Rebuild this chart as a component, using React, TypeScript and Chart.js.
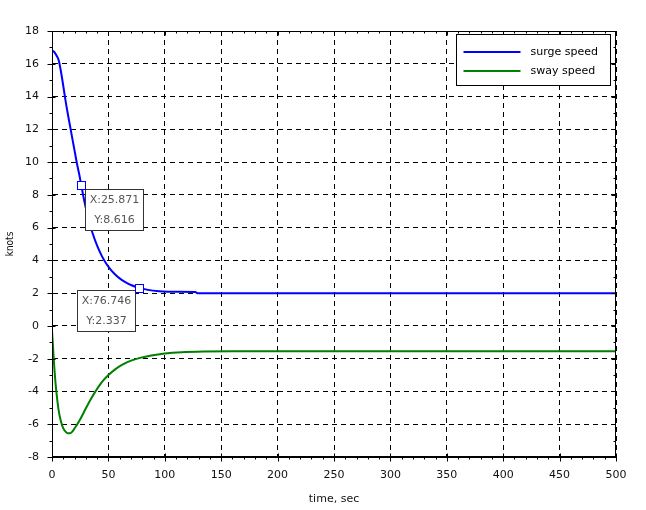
import React, { useEffect, useRef } from "react";
import { Chart, registerables } from "chart.js";

Chart.register(...registerables);

// ---- data ----
const surgeTime = [0, 2, 4, 6, 8, 10, 12, 14, 16, 18, 20, 22, 24, 25.871, 28, 30, 33, 36, 40, 44, 48, 52, 56, 60, 65, 70, 76.746, 85, 95, 110, 127, 129, 200, 300, 400, 500];
const surgeSpeed = [16.8, 16.72, 16.5, 16.2, 15.5, 14.65, 13.75, 12.95, 12.2, 11.45, 10.7, 9.95, 9.3, 8.616, 7.84, 7.2, 6.36, 5.66, 4.9, 4.29, 3.81, 3.44, 3.14, 2.9, 2.67, 2.5, 2.337, 2.2, 2.12, 2.08, 2.07, 2.0, 2.0, 2.0, 2.0, 2.0];
const swayTime = [0, 1, 2, 3, 4, 5, 6, 8, 10, 12, 14, 16, 18, 20, 22, 25, 28, 31, 35, 39, 44, 50, 56, 62, 70, 78, 88, 100, 115, 135, 160, 200, 300, 400, 500];
const swaySpeed = [-0.3, -1.4, -2.5, -3.4, -4.1, -4.7, -5.2, -5.85, -6.25, -6.45, -6.55, -6.55, -6.45, -6.25, -6.05, -5.7, -5.3, -4.9, -4.4, -3.95, -3.45, -3.0, -2.65, -2.38, -2.12, -1.95, -1.8, -1.68, -1.6, -1.56, -1.55, -1.55, -1.55, -1.55, -1.55];
const seriesNames = ["surge speed", "sway speed"];
const seriesColors = ["#0000ff", "#008000"];
const tipX = [25.871, 76.746];
const tipY = [8.616, 2.337];
const xTitle = "time, sec";
const yTitle = "knots";
const xMin = 0, xMax = 500, xStep = 50, xMinorStep = 10;
const yMin = -8, yMax = 18, yStep = 2, yMinorStep = 1;

const FONT = "'DejaVu Sans', sans-serif";

// datatip box placement relative to marker (layout only)
const tipLayout = [
  { dx: 4, dy: 4.5, anchor: "left" },
  { dx: -4, dy: 2, anchor: "right" },
];

const decorPlugin = {
  id: "decor",
  afterDraw(chart: any) {
    const { ctx, chartArea: a, scales } = chart;
    const xs = scales.x, ys = scales.y;
    ctx.save();
    ctx.setLineDash([]);
    ctx.strokeStyle = "#000";
    ctx.lineWidth = 1;
    // frame
    const L = Math.round(a.left) + 0.5, R = Math.round(a.right) - 0.5;
    const T = Math.round(a.top) + 0.5, B = Math.round(a.bottom) - 0.5;
    ctx.strokeRect(L, T, R - L, B - T);
    // ticks
    ctx.beginPath();
    for (let v = xMin; v <= xMax + 1e-9; v += xMinorStep) {
      const major = Math.abs(v / xStep - Math.round(v / xStep)) < 1e-6;
      const px = Math.round(xs.getPixelForValue(v)) + 0.5;
      ctx.moveTo(px, B - (major ? 3 : 0));
      ctx.lineTo(px, B + (major ? 5 : 3));
      ctx.moveTo(px, T);
      ctx.lineTo(px, T + (major ? 4 : 2));
    }
    for (let v = yMin; v <= yMax + 1e-9; v += yMinorStep) {
      const major = Math.abs(v / yStep - Math.round(v / yStep)) < 1e-6;
      const py = Math.round(ys.getPixelForValue(v)) + 0.5;
      ctx.moveTo(L - (major ? 5 : 3), py);
      ctx.lineTo(L + (major ? 3 : 0), py);
      ctx.moveTo(R, py);
      ctx.lineTo(R - (major ? 4 : 2), py);
    }
    ctx.stroke();

    // legend
    const lw = 154, lh = 51;
    const lx = Math.round(a.right - 6 - lw) + 0.5;
    const ly = Math.round(a.top + 3) + 0.5;
    ctx.fillStyle = "#fff";
    ctx.fillRect(lx, ly, lw, lh);
    ctx.strokeStyle = "#000";
    ctx.lineWidth = 1;
    ctx.strokeRect(lx, ly, lw, lh);
    ctx.font = `11px ${FONT}`;
    ctx.textBaseline = "middle";
    ctx.textAlign = "left";
    seriesNames.forEach((name, i) => {
      const yy = ly + 17.5 + i * 19;
      ctx.strokeStyle = seriesColors[i];
      ctx.lineWidth = 2;
      ctx.beginPath();
      ctx.moveTo(lx + 7, yy);
      ctx.lineTo(lx + 64, yy);
      ctx.stroke();
      ctx.fillStyle = "#000";
      ctx.fillText(name, lx + 74, yy);
    });

    // datatips
    tipX.forEach((tx, i) => {
      const mx = xs.getPixelForValue(tx);
      const my = ys.getPixelForValue(tipY[i]);
      const t1 = `X:${tx.toFixed(3)}`;
      const t2 = `Y:${tipY[i].toFixed(3)}`;
      ctx.font = `11px ${FONT}`;
      const tw = Math.max(ctx.measureText(t1).width, ctx.measureText(t2).width);
      const bw = Math.round(tw + 8), bh = 41;
      const lay = tipLayout[i];
      const bx = Math.round(lay.anchor === "left" ? mx + lay.dx : mx + lay.dx - bw) + 0.5;
      const by = Math.round(my + lay.dy) + 0.5;
      ctx.fillStyle = "#fff";
      ctx.fillRect(bx, by, bw, bh);
      ctx.strokeStyle = "#333";
      ctx.lineWidth = 1;
      ctx.strokeRect(bx, by, bw, bh);
      ctx.fillStyle = "#555";
      ctx.textAlign = "center";
      ctx.textBaseline = "middle";
      ctx.fillText(t1, bx + bw / 2, by + 11);
      ctx.fillText(t2, bx + bw / 2, by + 31);
      // marker
      ctx.fillStyle = "#fff";
      ctx.strokeStyle = seriesColors[0];
      ctx.lineWidth = 1;
      const ms = 8;
      const sx = Math.round(mx - ms / 2) + 0.5, sy = Math.round(my - ms / 2) + 0.5;
      ctx.fillRect(sx, sy, ms, ms);
      ctx.strokeRect(sx, sy, ms, ms);
    });
    ctx.restore();
  },
};

export default function App() {
  const ref = useRef<HTMLCanvasElement | null>(null);
  useEffect(() => {
    if (!ref.current) return;
    Chart.defaults.font.family = FONT;
    Chart.defaults.font.size = 11;
    Chart.defaults.color = "#111";
    const chart = new Chart(ref.current, {
      type: "line",
      data: {
        datasets: [
          {
            label: seriesNames[0],
            data: surgeTime.map((t, i) => ({ x: t, y: surgeSpeed[i] })),
            borderColor: seriesColors[0],
            borderWidth: 2,
            pointRadius: 0,
            cubicInterpolationMode: "monotone",
          },
          {
            label: seriesNames[1],
            data: swayTime.map((t, i) => ({ x: t, y: swaySpeed[i] })),
            borderColor: seriesColors[1],
            borderWidth: 2,
            pointRadius: 0,
            cubicInterpolationMode: "monotone",
          },
        ],
      },
      options: {
        animation: false,
        responsive: false,
        events: [],
        layout: { padding: { top: 31, right: 30, left: 0, bottom: 0 } },
        plugins: { legend: { display: false }, tooltip: { enabled: false } },
        scales: {
          x: {
            type: "linear",
            min: xMin,
            max: xMax,
            afterFit: (s: any) => { s.height = 53; },
            ticks: { stepSize: xStep, padding: 12, maxRotation: 0, autoSkip: false, color: "#111", font: { size: 11 } },
            grid: { color: "#000", lineWidth: 1, drawTicks: false },
            border: { display: true, color: "#000", width: 1, dash: [5, 4] },
            title: { display: true, text: xTitle, color: "#111", font: { size: 11 }, padding: { top: 4, bottom: 4 } },
          },
          y: {
            type: "linear",
            min: yMin,
            max: yMax,
            afterFit: (s: any) => { s.width = 52; },
            ticks: { stepSize: yStep, padding: 13, autoSkip: false, color: "#111", font: { size: 11 } },
            grid: { color: "#000", lineWidth: 1, drawTicks: false },
            border: { display: true, color: "#000", width: 1, dash: [5, 4] },
            title: { display: true, text: yTitle, color: "#111", font: { size: 10, family: "'Liberation Sans Narrow', 'DejaVu Sans Condensed', sans-serif" }, padding: { top: 4, bottom: 4 } },
          },
        },
      },
      plugins: [decorPlugin],
    } as any);
    return () => chart.destroy();
  }, []);
  return (
    <div style={{ position: "absolute", left: 0, top: 0, width: 646, height: 510, background: "#fff" }}>
      <canvas ref={ref} width={646} height={510} style={{ display: "block" }} />
    </div>
  );
}
